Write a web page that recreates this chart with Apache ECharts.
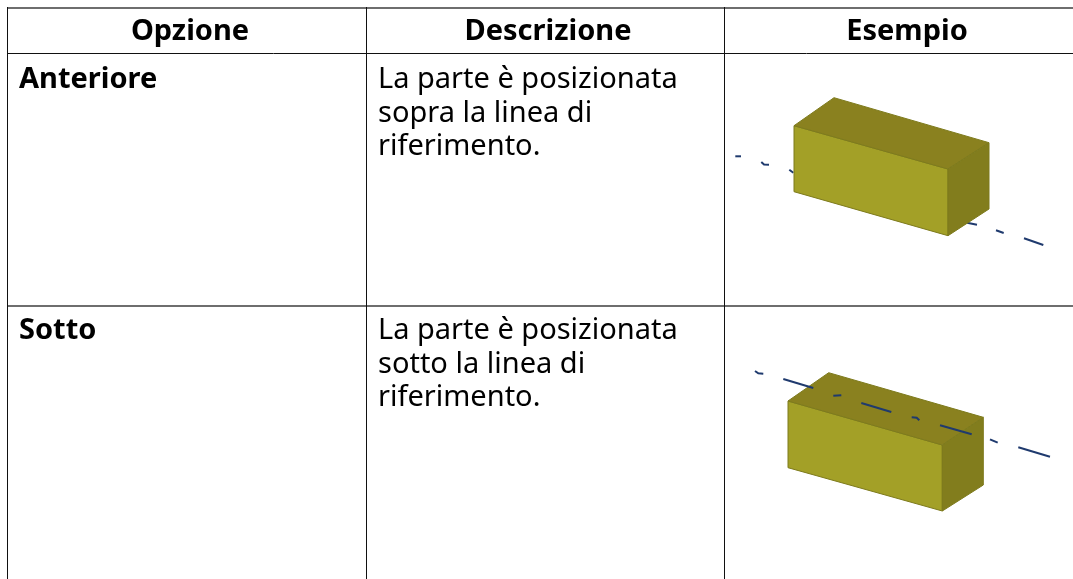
<!DOCTYPE html>
<html><head><meta charset="utf-8">
<style>html,body{margin:0;padding:0;background:#fff}#c{width:1073px;height:579px}</style>
<script src="https://cdn.jsdelivr.net/npm/echarts@6/dist/echarts.min.js"></script>
</head><body><div id="c"></div>
<script>
const headers = ['Opzione','Descrizione','Esempio'];
const options = ['Anteriore','Sotto'];
const descriptions = [
  ['La parte è posizionata','sopra la linea di','riferimento.'],
  ['La parte è posizionata','sotto la linea di','riferimento.']
];
const softLines = [
  [[7,8],[1073,8]], [[7,306],[1073,306]]
];
const hardLines = [
  [[7,53.5],[1073,53.5]],
  [[7.5,7],[7.5,579]], [[366.5,7],[366.5,579]], [[724.5,7],[724.5,579]]
];
const box1 = {
  front:[[794,125.7],[948,169],[948,235.7],[794,191.7]],
  top:[[794,125.7],[834,97.7],[989,142.7],[948,169]],
  side:[[948,169],[989,142.7],[989,209],[948,235.7]]
};
const box2 = {
  front:[[788,401],[942.3,445],[942.3,511],[788,467.7]],
  top:[[788,401],[828.7,372.7],[983.3,417.3],[942.3,445]],
  side:[[942.3,445],[983.3,417.3],[983.3,485],[942.3,511]]
};
const dashesBehind = [
  [[735.3,156.3],[741,156.3]], [[761.3,162],[764,164.5],[769,164.7]], [[789.3,169.7],[793.3,172.7]],
  [[967,222.7],[977,224.7]], [[996,230.3],[1003.7,233]], [[1024,238.3],[1043.3,245]]
];
const dashesFront = [
  [[755,371],[758.3,373.3],[763.3,373.7]], [[783.3,379],[813.3,388]], [[833.3,395.7],[841.3,395.3]],
  [[861.3,403],[891.3,412]], [[911.7,417.3],[916.7,417.7],[919.3,420.3]], [[940,425.3],[971.7,434.3]],
  [[990,439.3],[997.7,442.7]], [[1018.3,447.3],[1050,456.7]]
];
const headerX = [190,548,907];
const faceFill = {front:'#a3a027', top:'#8a811f', side:'#827d1d'};
const faceEdge = '#7d7a1c';

const font = '"Noto Sans"';
const texts = [];
headers.forEach((t,i)=>texts.push({value:[headerX[i],32],t,bold:true,align:'center'}));
[[0,80],[1,331]].forEach(([r,y])=>{
  texts.push({value:[19,y],t:options[r],bold:true,align:'left'});
  descriptions[r].forEach((t,k)=>texts.push({value:[378,y+k*33.5],t,bold:false,align:'left'}));
});
const polys = [];
[box1,box2].forEach(b=>['front','top','side'].forEach(f=>polys.push({pts:b[f],fill:faceFill[f]})));

const chart = echarts.init(document.getElementById('c'));
const noAxis = {show:false,type:'value'};
const lineSeries = (coords,color,width,z)=>({type:'lines',coordinateSystem:'cartesian2d',polyline:true,silent:true,z,
  lineStyle:{color,width,opacity:1},data:coords.map(c=>({coords:c}))});
chart.setOption({
  animation:false,
  grid:{left:0,right:0,top:0,bottom:0},
  xAxis:{...noAxis,min:0,max:1073},
  yAxis:{...noAxis,min:0,max:579,inverse:true},
  series:[
    lineSeries(softLines,'#6e6e6e',2,1),
    lineSeries(hardLines,'#111',1,1),
    lineSeries(dashesBehind,'#1f3a6e',2,2),
    {type:'custom',coordinateSystem:'cartesian2d',silent:true,z:3,
     data:polys.map((p,i)=>[i]),
     renderItem:(params,api)=>{
       const p = polys[api.value(0)];
       return {type:'polygon',shape:{points:p.pts.map(q=>api.coord(q))},
         style:{fill:p.fill,stroke:faceEdge,lineWidth:1}};
     }},
    lineSeries(dashesFront,'#1f3a6e',2,4),
    {type:'custom',coordinateSystem:'cartesian2d',silent:true,z:5,
     data:texts.map(t=>t.value),
     renderItem:(params,api)=>{
       const t = texts[params.dataIndex];
       const c = api.coord(t.value);
       return {type:'text',x:c[0],y:c[1],style:{text:t.t,fill:'#000',
         font:(t.bold?'bold ':'')+'29px '+font,align:t.align,verticalAlign:'middle'}};
     }}
  ]
});
</script></body></html>
